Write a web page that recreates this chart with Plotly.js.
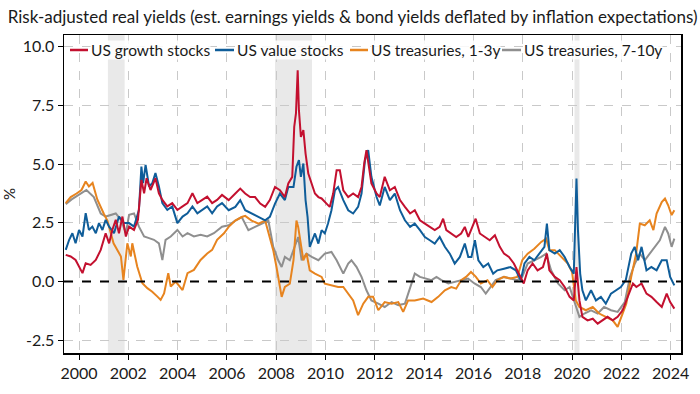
<!DOCTYPE html>
<html>
<head>
<meta charset="utf-8">
<script src="https://cdn.plot.ly/plotly-3.0.1.min.js"></script>
<style>html,body{margin:0;padding:0;background:#fff;}#chart{width:700px;height:394px;}</style>
</head>
<body>
<div id="chart"></div>
<script>
// ---- Data (decimal years, %) ----
const growthX = [1999.46,1999.66,1999.86,2000.0,2000.14,2000.27,2000.47,2000.68,2000.88,2001.08,2001.22,2001.35,2001.49,2001.62,2001.76,2001.9,2002.03,2002.23,2002.39,2002.53,2002.64,2002.74,2002.9,2003.1,2003.24,2003.38,2003.58,2003.78,2003.99,2004.2,2004.4,2004.6,2004.8,2005.0,2005.2,2005.4,2005.6,2005.8,2006.07,2006.34,2006.54,2006.74,2006.94,2007.14,2007.35,2007.55,2007.74,2007.95,2008.15,2008.35,2008.49,2008.65,2008.73,2008.8,2008.87,2008.92,2009.0,2009.1,2009.19,2009.3,2009.44,2009.57,2009.71,2009.84,2010.04,2010.17,2010.31,2010.45,2010.58,2010.72,2010.92,2011.12,2011.32,2011.46,2011.57,2011.66,2011.73,2011.86,2012.07,2012.2,2012.4,2012.61,2012.81,2013.02,2013.22,2013.43,2013.62,2013.83,2014.03,2014.23,2014.43,2014.63,2014.77,2014.9,2015.1,2015.3,2015.5,2015.65,2015.79,2015.95,2016.09,2016.26,2016.47,2016.66,2016.87,2017.07,2017.24,2017.44,2017.64,2017.85,2018.04,2018.2,2018.4,2018.6,2018.82,2018.98,2019.08,2019.3,2019.5,2019.7,2019.9,2020.07,2020.18,2020.3,2020.42,2020.63,2020.84,2021.04,2021.24,2021.44,2021.65,2021.85,2022.05,2022.27,2022.47,2022.61,2022.82,2023.02,2023.22,2023.43,2023.64,2023.84,2023.98,2024.15];
const growthY = [1.14,1.07,0.92,0.64,0.36,0.78,0.71,0.92,1.35,2.06,1.63,2.2,2.63,2.06,2.77,1.92,2.34,2.2,2.63,4.33,3.76,4.4,3.9,4.4,3.76,3.48,3.2,3.34,3.05,3.2,3.34,3.76,3.34,3.48,3.62,3.34,3.48,3.69,3.47,3.75,3.96,3.75,3.6,3.6,3.32,3.18,3.47,4.03,3.89,3.6,4.18,4.46,6.59,7.16,9.0,7.3,6.16,6.45,5.45,4.6,4.18,3.75,3.6,3.54,3.32,3.18,3.75,4.74,4.74,3.89,3.6,3.75,3.6,4.03,5.03,5.6,5.1,4.18,3.75,3.6,4.46,3.89,4.03,3.47,3.18,2.9,3.04,2.61,2.47,2.33,2.19,2.33,2.68,2.19,2.05,1.9,2.05,2.33,1.9,2.33,2.68,2.05,1.9,1.76,1.97,1.48,1.19,1.05,0.77,0.34,-0.08,0.48,0.77,0.48,0.62,1.19,0.48,0.2,0.06,-0.23,-0.65,-0.8,0.62,-0.8,-1.5,-1.65,-1.58,-1.79,-1.65,-1.5,-1.65,-1.5,-1.22,-0.65,-0.08,-0.23,-0.08,-0.51,-0.65,-0.87,-1.08,-0.51,-0.87,-1.15];

const valueX = [1999.46,1999.6,1999.73,1999.86,2000.0,2000.14,2000.27,2000.4,2000.54,2000.68,2000.81,2000.95,2001.08,2001.22,2001.42,2001.62,2001.82,2002.03,2002.23,2002.43,2002.53,2002.6,2002.7,2002.84,2002.97,2003.1,2003.24,2003.38,2003.58,2003.78,2003.99,2004.2,2004.4,2004.6,2004.8,2005.0,2005.2,2005.4,2005.6,2005.8,2006.07,2006.34,2006.54,2006.74,2007.0,2007.28,2007.55,2007.74,2007.95,2008.15,2008.35,2008.49,2008.7,2008.82,2008.92,2009.0,2009.1,2009.19,2009.27,2009.36,2009.46,2009.57,2009.71,2009.84,2009.97,2010.1,2010.24,2010.38,2010.51,2010.72,2010.92,2011.12,2011.32,2011.46,2011.6,2011.73,2011.86,2012.07,2012.2,2012.4,2012.61,2012.81,2013.02,2013.22,2013.43,2013.62,2013.83,2014.03,2014.23,2014.43,2014.63,2014.84,2015.04,2015.24,2015.45,2015.65,2015.79,2015.92,2016.06,2016.2,2016.4,2016.6,2016.8,2016.97,2017.24,2017.5,2017.72,2017.92,2018.07,2018.27,2018.47,2018.68,2018.88,2018.98,2019.08,2019.3,2019.5,2019.7,2019.9,2020.07,2020.18,2020.24,2020.33,2020.42,2020.56,2020.77,2020.97,2021.17,2021.37,2021.58,2021.78,2021.98,2022.18,2022.4,2022.54,2022.68,2022.82,2023.02,2023.22,2023.43,2023.64,2023.84,2023.98,2024.15];
const valueY = [1.35,1.78,2.06,1.63,2.2,1.92,2.91,2.2,2.34,2.06,2.49,2.2,2.63,2.34,2.06,2.77,2.49,2.49,2.34,3.05,4.9,4.19,4.97,4.05,4.19,4.62,4.05,3.34,3.05,3.2,2.49,2.77,2.91,3.2,2.91,3.05,3.2,2.91,3.2,3.34,3.04,3.18,3.47,3.04,2.9,2.76,2.61,2.76,3.32,3.75,3.47,4.03,4.03,4.89,5.17,4.46,5.03,3.47,2.76,1.48,1.76,2.05,1.62,2.19,2.05,2.47,3.04,3.89,4.03,3.47,3.04,2.9,3.18,3.75,5.17,5.6,4.46,3.6,3.24,4.03,3.47,3.75,3.04,2.61,2.33,2.47,2.19,1.9,1.76,1.62,1.9,1.48,1.19,0.77,1.05,1.62,1.05,1.05,1.76,0.91,0.62,0.77,0.34,0.48,0.55,0.62,0.48,0.06,0.77,1.05,0.91,1.19,1.48,2.47,1.34,1.19,1.34,1.05,0.62,0.34,4.39,2.19,0.34,-0.37,-0.8,-0.37,-0.8,-0.65,-0.94,-0.51,-0.37,-0.23,0.06,1.19,1.48,0.91,1.48,0.48,0.62,0.48,0.91,0.91,0.2,-0.16];

const t13X = [1999.46,1999.66,1999.9,2000.1,2000.27,2000.4,2000.55,2000.74,2001.0,2001.15,2001.4,2001.7,2001.8,2001.96,2002.1,2002.16,2002.36,2002.57,2002.77,2002.97,2003.18,2003.31,2003.45,2003.62,2003.72,2003.92,2004.2,2004.4,2004.66,2004.93,2005.2,2005.4,2005.6,2005.88,2006.07,2006.34,2006.6,2006.74,2007.0,2007.28,2007.55,2007.68,2007.88,2008.01,2008.15,2008.22,2008.35,2008.55,2008.7,2008.82,2008.89,2009.0,2009.1,2009.23,2009.36,2009.57,2009.84,2009.97,2010.24,2010.51,2010.72,2010.92,2011.12,2011.32,2011.53,2011.73,2011.93,2012.14,2012.4,2012.68,2012.95,2013.15,2013.35,2013.62,2013.96,2014.3,2014.57,2014.84,2015.1,2015.3,2015.5,2015.7,2015.9,2016.1,2016.3,2016.57,2016.77,2016.97,2017.24,2017.5,2017.78,2017.98,2018.2,2018.47,2018.75,2018.95,2019.08,2019.3,2019.56,2019.83,2020.0,2020.15,2020.3,2020.56,2020.84,2021.1,2021.37,2021.65,2021.85,2022.0,2022.2,2022.4,2022.6,2022.75,2022.95,2023.15,2023.3,2023.43,2023.64,2023.77,2023.9,2024.04,2024.15];
const t13Y = [3.34,3.6,3.75,3.9,4.26,4.05,4.2,3.5,2.9,2.6,1.63,1.07,0.07,1.63,1.07,1.63,0.64,-0.07,-0.28,-0.43,-0.64,-0.78,-0.5,0.36,-0.21,0.0,-0.36,0.36,0.5,0.92,1.2,1.35,1.78,2.06,2.33,2.6,2.75,2.8,2.6,2.47,2.6,2.05,1.33,0.62,-0.37,-0.65,-0.23,-0.09,0.91,2.6,2.33,1.48,0.91,1.2,0.48,0.34,0.2,-0.09,-0.16,-0.23,-0.23,-0.51,-0.8,-1.43,-0.94,-0.65,-0.65,-1.22,-0.87,-0.94,-0.87,-1.29,-0.8,-0.8,-0.72,-0.87,-0.65,-0.37,-0.23,-0.3,0.06,0.2,0.41,0.2,-0.08,0.06,-0.23,0.06,0.2,0.13,0.2,0.91,1.19,1.4,1.69,1.83,1.34,1.34,1.05,0.77,0.41,-0.8,-1.08,-1.22,-1.08,-1.36,-1.5,-1.65,-1.93,-1.5,-0.94,0.2,1.19,2.47,2.4,2.61,2.19,2.9,3.39,3.54,3.25,2.83,3.04];

const t710X = [1999.46,1999.7,2000.0,2000.3,2000.6,2000.88,2001.08,2001.28,2001.49,2001.7,2001.9,2002.03,2002.23,2002.43,2002.64,2002.84,2003.04,2003.24,2003.38,2003.51,2003.72,2003.99,2004.2,2004.4,2004.66,2004.93,2005.2,2005.47,2005.8,2006.07,2006.34,2006.6,2006.87,2007.14,2007.41,2007.68,2007.88,2008.08,2008.22,2008.35,2008.55,2008.76,2008.89,2009.03,2009.23,2009.44,2009.71,2009.97,2010.24,2010.45,2010.72,2010.92,2011.05,2011.26,2011.46,2011.66,2011.86,2012.14,2012.4,2012.68,2012.95,2013.22,2013.49,2013.62,2013.83,2014.03,2014.3,2014.5,2014.7,2014.98,2015.24,2015.5,2015.78,2016.04,2016.3,2016.5,2016.7,2016.9,2017.24,2017.5,2017.78,2017.98,2018.2,2018.47,2018.75,2018.95,2019.15,2019.43,2019.7,2019.9,2020.07,2020.3,2020.5,2020.77,2021.04,2021.3,2021.58,2021.85,2022.14,2022.35,2022.55,2022.75,2022.95,2023.15,2023.36,2023.56,2023.77,2023.9,2024.04,2024.15];
const t710Y = [3.3,3.5,3.7,3.9,3.6,2.9,2.77,2.84,2.9,2.63,2.06,2.84,2.9,2.34,1.92,1.85,1.78,1.63,0.92,1.78,1.92,2.2,1.92,2.06,1.92,1.99,1.92,2.06,2.34,2.4,2.6,2.75,2.19,2.33,2.47,2.6,1.48,0.91,0.62,1.05,0.91,1.48,1.9,0.91,1.19,1.05,0.91,1.19,1.26,0.91,0.34,0.77,0.91,0.62,0.2,-0.37,-0.8,-0.94,-1.08,-0.87,-1.0,-0.94,-0.08,0.34,0.2,0.13,0.06,0.2,0.06,-0.08,-0.01,0.06,0.13,-0.08,-0.23,-0.51,-0.23,0.06,0.2,0.13,0.06,0.2,0.77,0.91,1.05,1.19,0.48,-0.08,-0.37,-0.23,-0.8,-1.5,-1.36,-1.22,-1.36,-1.08,-1.22,-1.29,-0.87,0.2,0.77,1.19,0.91,1.19,1.48,1.76,2.33,2.05,1.48,1.83];

const seriesNames = ["US growth stocks","US value stocks","US treasuries, 1-3y","US treasuries, 7-10y"];
const recessions = [[2001.17,2001.85],[2007.95,2009.45],[2020.1,2020.3]];
const yTicks = [-2.5,0,2.5,5,7.5,10];
const yTickText = ["-2.5","0.0","2.5","5.0","7.5","10.0"];
const xTicks = [2000,2002,2004,2006,2008,2010,2012,2014,2016,2018,2020,2022,2024];

const FONT = "Lato, 'Open Sans', sans-serif";
const seriesColors = ["#c3102f","#0f5d99","#e7841f","#8f8f8f"];
const seriesX = [growthX, valueX, t13X, t710X];
const seriesY = [growthY, valueY, t13Y, t710Y];

// traces (draw order: gray, orange, blue, red on top)
const traces = [3,2,1,0].map(i => ({
  type:"scatter", mode:"lines", x:seriesX[i], y:seriesY[i], name:seriesNames[i],
  line:{color:seriesColors[i], width:2}, showlegend:false
}));

// plot-area geometry for the legend drawn inside the frame (paper fractions)
const PL = 64, PR = 681, PT = 35, PB = 353;
const px = v => (v - PL) / (PR - PL);
const py = v => (PB - v) / (PB - PT);
const legendLineX = [[70,88],[215,234],[350,368],[502,521]];
const legendY = 50;

const shapes = recessions.map(r => ({
  type:"rect", xref:"x", yref:"paper", x0:r[0], x1:r[1], y0:0, y1:1,
  fillcolor:"#e9e9e9", line:{width:0}, layer:"below"
}));
shapes.push({type:"line", xref:"paper", yref:"y", x0:0, x1:1, y0:0, y1:0,
  line:{color:"#000", width:2, dash:"dash"}});
legendLineX.forEach((lx,i) => shapes.push({type:"line", xref:"paper", yref:"paper",
  x0:px(lx[0]), x1:px(lx[1]), y0:py(legendY), y1:py(legendY),
  line:{color:seriesColors[i], width:2.5}}));

const annotations = seriesNames.map((n,i) => ({
  text:n, xref:"paper", yref:"paper", x:px(legendLineX[i][1]+2), y:py(legendY),
  xanchor:"left", yanchor:"middle", showarrow:false,
  font:{family:FONT, size:15.5, color:"#1a1a1a"}, bgcolor:"rgba(255,255,255,0.85)", borderpad:0
}));
annotations.push({text:"<b>Capital Research/Macrobond</b>", xref:"paper", yref:"paper",
  x:1.01, y:-0.11, xanchor:"right", yanchor:"top", showarrow:false,
  font:{family:FONT, size:15.5, color:"#1a1a1a"}});

const layout = {
  width:700, height:394,
  margin:{l:PL, r:700-PR, t:PT, b:394-PB},
  paper_bgcolor:"#fff", plot_bgcolor:"#fff",
  font:{family:FONT, size:15, color:"#1a1a1a"},
  title:{text:"Risk-adjusted real yields (est. earnings yields & bond yields deflated by inflation expectations)",
    x:0.011, xanchor:"left", y:0.957, yanchor:"middle", font:{family:FONT, size:17, color:"#1a1a1a"}},
  xaxis:{range:[1999.39,2024.42], tickvals:xTicks, ticktext:xTicks.map(String),
    showgrid:true, gridcolor:"#c9c9c9", griddash:"dash", gridwidth:1,
    showline:true, linecolor:"#000", linewidth:1.5, mirror:true,
    ticks:"outside", ticklen:5, tickcolor:"#000", zeroline:false,
    tickfont:{family:FONT, size:16}},
  yaxis:{range:[-3.04,10.5], tickvals:yTicks, ticktext:yTickText,
    showgrid:true, gridcolor:"#c9c9c9", griddash:"dash", gridwidth:1,
    showline:true, linecolor:"#000", linewidth:1.5, mirror:true,
    ticks:"outside", ticklen:5, tickcolor:"#000", zeroline:false,
    title:{text:"%", standoff:12, font:{family:FONT, size:15}},
    tickfont:{family:FONT, size:16}},
  showlegend:false,
  shapes:shapes,
  annotations:annotations
};

Plotly.newPlot("chart", traces, layout, {displayModeBar:false, staticPlot:true});
</script>
</body>
</html>
